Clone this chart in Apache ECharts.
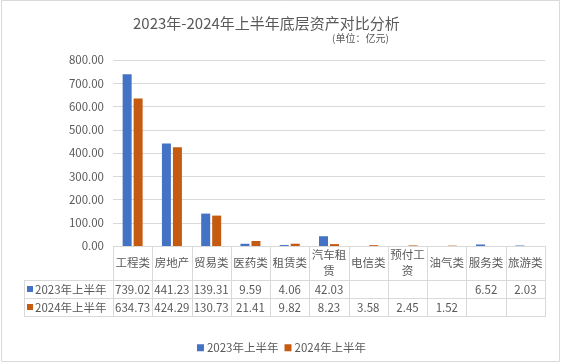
<!DOCTYPE html>
<html><head><meta charset="utf-8">
<script src="https://cdn.jsdelivr.net/npm/echarts@6/dist/echarts.min.js"></script>
<style>html,body{margin:0;padding:0;background:#fff}#c{width:563px;height:364px}</style>
</head><body><div id="c"></div>
<script>
const categories = ['工程类','房地产','贸易类','医药类','租赁类','汽车租赁','电信类','预付工资','油气类','服务类','旅游类'];
const series2023 = [739.02,441.23,139.31,9.59,4.06,42.03,null,null,null,6.52,2.03];
const series2024 = [634.73,424.29,130.73,21.41,9.82,8.23,3.58,2.45,1.52,null,null];
const seriesNames = ['2023年上半年','2024年上半年'];
const yTicks = [0,100,200,300,400,500,600,700,800];

const FONT = '"Noto Sans CJK SC", "Noto Sans", sans-serif';
const TXT = '#595959';
const LINE = '#D9D9D9';
const C1 = '#4472C4', C2 = '#C55A11';

const gL = 113, gR = 545, gT = 60, gB = 246;
const tableBottom = 316, row1 = 280, row2 = 298, legendLeft = 24;

const chart = echarts.init(document.getElementById('c'), null, {renderer:'canvas'});

const fmt = v => (v === null || v === undefined) ? '' : v.toFixed(2);
const wrapCat = s => s.length > 3 ? s.slice(0,3) + '\n' + s.slice(3) : s;

const n = categories.length;
const cw = (gR - gL) / n;
const graphics = [];
// outer border
graphics.push({type:'rect', shape:{x:1.5,y:0.5,width:558,height:361}, style:{fill:null, stroke:LINE, lineWidth:1}, silent:true});
// table lines
const hl = (x1,y,x2) => graphics.push({type:'line', shape:{x1:x1,y1:y+0.5,x2:x2,y2:y+0.5}, style:{stroke:LINE,lineWidth:1}, silent:true});
const vl = (x,y1,y2) => graphics.push({type:'line', shape:{x1:x+0.5,y1:y1,x2:x+0.5,y2:y2}, style:{stroke:LINE,lineWidth:1}, silent:true});
hl(gL, gB, gR);
hl(legendLeft, row1, gR);
hl(legendLeft, row2, gR);
hl(legendLeft, tableBottom, gR);
for (let i = 0; i <= n; i++) vl(Math.round(gL + i*cw), gB, tableBottom+1);
vl(legendLeft, row1, tableBottom+1);
// legend keys in table
[[seriesNames[0], C1, (row1+row2)/2],[seriesNames[1], C2, (row2+tableBottom)/2]].forEach(([name,col,cy]) => {
  graphics.push({type:'rect', shape:{x:27,y:Math.round(cy-3),width:6,height:6}, style:{fill:col}, silent:true});
  graphics.push({type:'text', x:35, y:cy+1, style:{text:name, fill:TXT, font:'11.5px '+FONT, verticalAlign:'middle', align:'left'}, silent:true});
});

chart.setOption({
  animation:false,
  textStyle:{fontFamily:FONT},
  title:[
    {text:'2023年-2024年上半年底层资产对比分析', left:128, top:11, textStyle:{fontSize:15, fontWeight:'normal', color:TXT, fontFamily:FONT}},
    {text:'(单位：亿元)', left:327, top:28, textStyle:{fontSize:10, fontWeight:'normal', color:TXT, fontFamily:FONT}}
  ],
  legend:{data:seriesNames, left:'center', top:337, itemWidth:7, itemHeight:7, itemGap:6, icon:'rect',
    textStyle:{fontSize:11.5, color:TXT, fontFamily:FONT, padding:[0,0,0,-2]}},
  grid:{left:gL, right:563-gR, top:gT, bottom:364-gB},
  xAxis:[
    {type:'category', data:categories, axisLine:{show:false}, axisTick:{show:false},
      axisLabel:{interval:0, margin:17, verticalAlign:'middle', lineHeight:16, formatter:wrapCat, color:TXT, fontSize:11.5, fontFamily:FONT}},
    {type:'category', data:categories, position:'bottom', axisLine:{show:false}, axisTick:{show:false},
      axisLabel:{interval:0, margin:(row1+row2)/2 - gB + 1, verticalAlign:'middle', color:TXT, fontSize:11.5, fontFamily:FONT,
        formatter:(v,i)=>fmt(series2023[i])}},
    {type:'category', data:categories, position:'bottom', axisLine:{show:false}, axisTick:{show:false},
      axisLabel:{interval:0, margin:(row2+tableBottom)/2 - gB + 1, verticalAlign:'middle', color:TXT, fontSize:11.5, fontFamily:FONT,
        formatter:(v,i)=>fmt(series2024[i])}}
  ],
  yAxis:{type:'value', min:yTicks[0], max:yTicks[yTicks.length-1], interval:yTicks[1]-yTicks[0],
    axisLine:{show:false}, axisTick:{show:false},
    axisLabel:{margin:9, color:TXT, fontSize:11.5, fontFamily:FONT, formatter:v=>v.toFixed(2)},
    splitLine:{lineStyle:{color:LINE, width:1}}},
  series:[
    {name:seriesNames[0], type:'bar', xAxisIndex:0, data:series2023, barWidth:9, barGap:'22%', itemStyle:{color:C1}},
    {name:seriesNames[1], type:'bar', xAxisIndex:0, data:series2024, barWidth:9, barGap:'22%', itemStyle:{color:C2}}
  ],
  graphic:graphics
});
</script></body></html>
